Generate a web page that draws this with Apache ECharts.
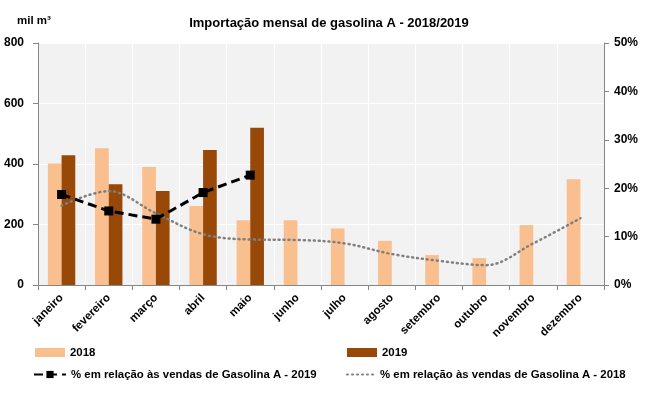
<!DOCTYPE html>
<html><head><meta charset="utf-8">
<script src="https://cdn.jsdelivr.net/npm/echarts@6/dist/echarts.min.js"></script>
<style>html,body{margin:0;padding:0;background:#fff}#c{width:651px;height:395px}</style>
</head><body><div id="c"></div>
<script>
const months = ['janeiro','fevereiro','março','abril','maio','junho','julho','agosto','setembro','outubro','novembro','dezembro'];
const imp2018 = [402, 452, 390, 261, 214, 214, 187, 146, 99, 89, 198, 350];
const imp2019 = [429, 333, 311, 446, 520, null, null, null, null, null, null, null];
const pct2019 = [18.7, 15.3, 13.6, 19.1, 22.7, null, null, null, null, null, null, null];
const pct2018 = [16.4, 19.4, 14.8, 10.5, 9.4, 9.3, 8.6, 6.4, 5.0, 4.1, 8.6, 13.8];
const leftTicks = [0, 200, 400, 600, 800];
const rightTicks = [0, 10, 20, 30, 40, 50];
const names = ['2018', '2019', '% em relação às vendas de Gasolina A - 2019', '% em relação às vendas de Gasolina A - 2018'];

const F = 'Liberation Sans, Arial, sans-serif';
const txt = {fontFamily: F, fontWeight: 'bold', fontSize: 12, color: '#000'};
const lg = Object.assign({}, txt, {fontSize: 11.4});
const axisCol = '#868686';
const chart = echarts.init(document.getElementById('c'), null, {renderer: 'canvas'});
chart.setOption({
  animation: false,
  title: [
    {text: 'Importação mensal de gasolina A - 2018/2019', left: 324, top: 12, textAlign: 'center',
     textStyle: Object.assign({}, txt, {fontSize: 13})},
    {text: 'mil m³', left: 12, top: 10, textStyle: Object.assign({}, txt, {fontSize: 11.5})}
  ],
  legend: [
    {data: [names[0]], left: 30, top: 342, itemWidth: 30, itemHeight: 9, itemGap: 0, textStyle: lg, icon: 'rect'},
    {data: [names[1]], left: 342, top: 342, itemWidth: 30, itemHeight: 9, itemGap: 0, textStyle: lg, icon: 'rect'},
    {data: [names[2]], left: 28, top: 364, itemWidth: 32, itemHeight: 9, textStyle: lg},
    {data: [names[3]], left: 341, top: 364, itemWidth: 28, itemHeight: 9, textStyle: lg,
     itemStyle: {color: 'rgba(0,0,0,0)', borderWidth: 0}}
  ],
  grid: {left: 38, right: 47, top: 43, bottom: 110, show: true, backgroundColor: '#f2f2f2', borderWidth: 0},
  xAxis: {
    type: 'category', data: months, boundaryGap: true,
    axisLine: {lineStyle: {color: axisCol}},
    axisTick: {show: true, length: 5, lineStyle: {color: axisCol}},
    splitLine: {show: true, lineStyle: {color: '#ffffff', width: 1}},
    axisLabel: Object.assign({}, txt, {fontSize: 11.5, rotate: 45, margin: 11, interval: 0})
  },
  yAxis: [
    {type: 'value', min: 0, max: 800, interval: 200, position: 'left',
     axisLine: {show: true, lineStyle: {color: axisCol}},
     axisTick: {show: true, length: 5, lineStyle: {color: axisCol}},
     splitLine: {show: true, lineStyle: {color: '#ffffff', width: 1}},
     axisLabel: Object.assign({}, txt, {margin: 14, formatter: v => leftTicks.includes(v) ? String(v) : ''})},
    {type: 'value', min: 0, max: 50, interval: 10, position: 'right',
     axisLine: {show: true, lineStyle: {color: axisCol}},
     axisTick: {show: true, length: 5, lineStyle: {color: axisCol}},
     splitLine: {show: false},
     axisLabel: Object.assign({}, txt, {margin: 10, formatter: v => rightTicks.includes(v) ? v + '%' : ''})}
  ],
  series: [
    {name: names[0], type: 'bar', data: imp2018, barGap: '0%', barCategoryGap: '42%',
     itemStyle: {color: '#fabf8f'}},
    {name: names[1], type: 'bar', data: imp2019, barGap: '0%', barCategoryGap: '42%',
     itemStyle: {color: '#984807'}},
    {name: names[2], type: 'line', yAxisIndex: 1, data: pct2019, symbol: 'rect', symbolSize: 9,
     itemStyle: {color: '#000'}, lineStyle: {color: '#000', width: 3, type: [9, 5]}, z: 5},
    {name: names[3], type: 'line', yAxisIndex: 1, data: pct2018, symbol: 'none', smooth: 0.35,
     itemStyle: {color: '#7f7f7f'}, lineStyle: {color: '#7f7f7f', width: 2.5, type: [1, 4], cap: 'round'}, z: 4}
  ]
});
</script></body></html>
